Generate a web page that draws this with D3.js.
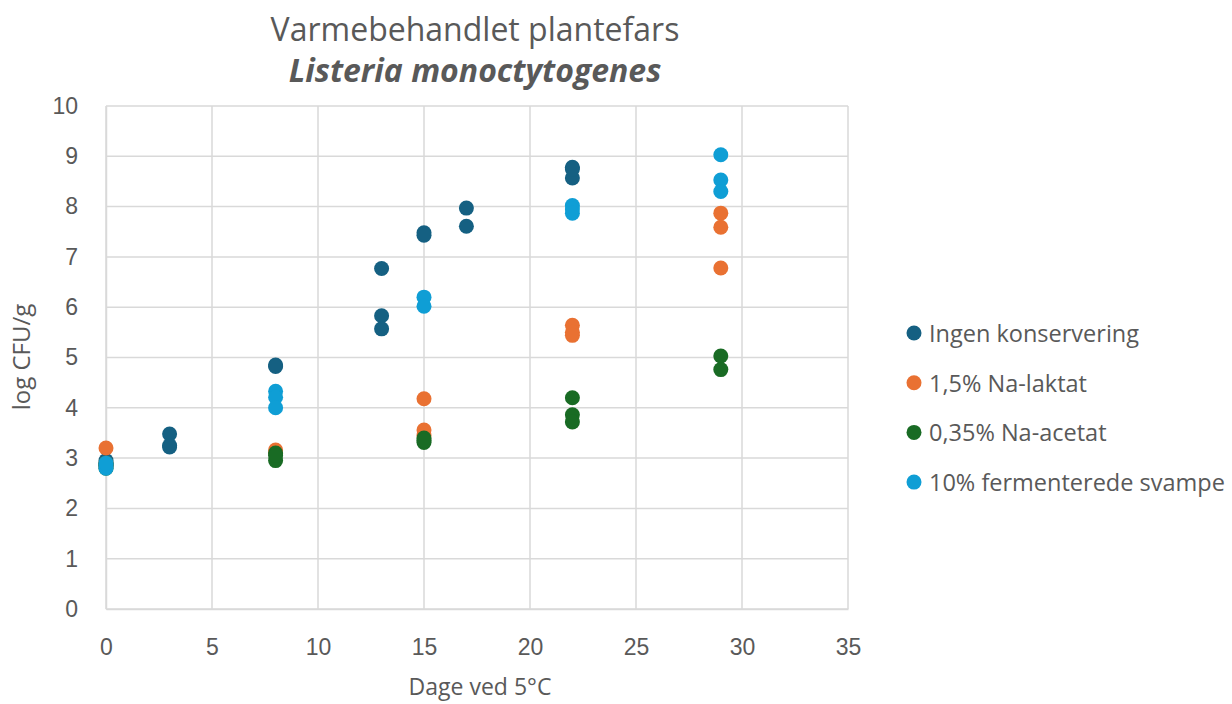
<!DOCTYPE html>
<html>
<head>
<meta charset="utf-8">
<script src="https://cdn.jsdelivr.net/npm/d3@7"></script>
<style>
  html, body { margin: 0; padding: 0; background: #fff; }
  svg { display: block; font-family: "Open Sans", "Noto Sans", sans-serif; }
</style>
</head>
<body>
<svg id="chart" width="1232" height="704"></svg>
<script>
// Storage days at 5 °C with measured log CFU/g per treatment
const seriesNames = ["Ingen konservering", "1,5% Na-laktat", "0,35% Na-acetat", "10% fermenterede svampe"];
const seriesColors = ["#156082", "#E97132", "#196B24", "#0F9ED5"];

const ingenDays   = [0, 0, 0, 3, 3, 3, 8, 8, 13, 13, 13, 15, 15, 17, 17, 22, 22, 22];
const ingenValues = [2.9, 2.85, 2.95, 3.48, 3.25, 3.22, 4.85, 4.82, 6.77, 5.83, 5.57, 7.48, 7.43, 7.97, 7.61, 8.78, 8.57, 8.75];

const laktatDays   = [0, 0, 0, 8, 8, 15, 15, 15, 22, 22, 22, 29, 29, 29];
const laktatValues = [3.2, 2.9, 2.85, 3.16, 3.1, 4.18, 3.56, 3.45, 5.64, 5.5, 5.44, 7.87, 7.59, 6.78];

const acetatDays   = [0, 0, 0, 8, 8, 8, 15, 15, 15, 22, 22, 22, 29, 29];
const acetatValues = [2.85, 2.8, 2.9, 3.1, 2.95, 3.05, 3.4, 3.31, 3.35, 4.2, 3.86, 3.72, 5.03, 4.76];

const svampeDays   = [0, 0, 0, 8, 8, 8, 15, 15, 22, 22, 22, 29, 29, 29];
const svampeValues = [2.85, 2.8, 2.9, 4.33, 4.21, 4.0, 6.2, 6.02, 8.02, 7.95, 7.87, 9.03, 8.53, 8.3];

const xTicks = [0, 5, 10, 15, 20, 25, 30, 35];
const yTicks = [0, 1, 2, 3, 4, 5, 6, 7, 8, 9, 10];

const series = [
  { days: ingenDays, values: ingenValues },
  { days: laktatDays, values: laktatValues },
  { days: acetatDays, values: acetatValues },
  { days: svampeDays, values: svampeValues }
];

const svg = d3.select("#chart");
const textColor = "#595959";
const gridColor = "#D9D9D9";

const plot = { left: 106, right: 848, top: 106, bottom: 609 };
const x = d3.scaleLinear().domain([0, 35]).range([plot.left, plot.right]);
const y = d3.scaleLinear().domain([0, 10]).range([plot.bottom, plot.top]);

// Gridlines
svg.append("g").selectAll("line.h").data(yTicks).join("line")
  .attr("x1", plot.left).attr("x2", plot.right)
  .attr("y1", d => y(d)).attr("y2", d => y(d))
  .attr("stroke", gridColor).attr("stroke-width", 1.5);
svg.append("g").selectAll("line.v").data(xTicks).join("line")
  .attr("x1", d => x(d)).attr("x2", d => x(d))
  .attr("y1", plot.top).attr("y2", plot.bottom)
  .attr("stroke", gridColor).attr("stroke-width", 1.5);

// Axes
const xAxis = svg.append("g")
  .attr("transform", `translate(0,${plot.bottom})`)
  .call(d3.axisBottom(x).tickValues(xTicks).tickSize(0).tickPadding(30));
const yAxis = svg.append("g")
  .attr("transform", `translate(${plot.left},0)`)
  .call(d3.axisLeft(y).tickValues(yTicks).tickSize(0).tickPadding(28));
[xAxis, yAxis].forEach(a => {
  a.select(".domain").attr("stroke", gridColor).attr("stroke-width", 1.5);
  a.selectAll("text").attr("fill", textColor).style("font-size", "23px")
    .style("font-family", "'Liberation Sans', Arial, sans-serif");
});

// Points
series.forEach((s, i) => {
  svg.append("g").selectAll("circle").data(s.days.map((d, j) => [d, s.values[j]])).join("circle")
    .attr("cx", d => x(d[0])).attr("cy", d => y(d[1]))
    .attr("r", 7.5).attr("fill", seriesColors[i]);
});

// Titles
svg.append("text").attr("x", 475).attr("y", 41).attr("text-anchor", "middle")
  .attr("fill", textColor).style("font-size", "32px")
  .text("Varmebehandlet plantefars");
svg.append("text").attr("x", 475).attr("y", 82).attr("text-anchor", "middle")
  .attr("fill", textColor).style("font-size", "32px")
  .style("font-weight", "bold").style("font-style", "italic")
  .text("Listeria monoctytogenes");

svg.append("text").attr("x", 480).attr("y", 695).attr("text-anchor", "middle")
  .attr("fill", textColor).style("font-size", "23px").text("Dage ved 5°C");
svg.append("text").attr("transform", "translate(30,357) rotate(-90)")
  .attr("text-anchor", "middle").attr("fill", textColor).style("font-size", "24px")
  .text("log CFU/g");

// Legend
const legend = svg.append("g");
seriesNames.forEach((name, i) => {
  const ly = 333 + i * 49.7;
  legend.append("circle").attr("cx", 914).attr("cy", ly).attr("r", 7.5).attr("fill", seriesColors[i]);
  legend.append("text").attr("x", 929).attr("y", ly + 9).attr("fill", textColor)
    .style("font-size", "23.5px").text(name);
});
</script>
</body>
</html>
